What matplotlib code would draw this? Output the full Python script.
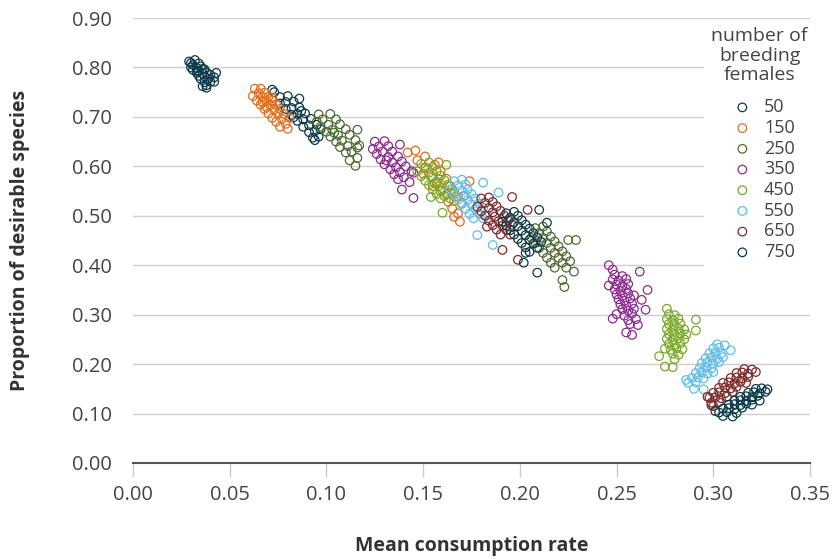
import matplotlib
matplotlib.use("Agg")
import matplotlib.pyplot as plt

plt.rcParams["font.family"] = ["Open Sans", "DejaVu Sans"]

females = [50, 150, 250, 350, 450, 550, 650, 750]
colors = ["#0d3a48", "#e06b1b", "#4e6b35", "#8b2b8f", "#7aa82a", "#5bbfea", "#7d2b2b", "#0d3a48"]

# every group shows two clusters
x50 = [0.029, 0.031, 0.033, 0.034, 0.036, 0.037, 0.039, 0.040,
       0.032, 0.034, 0.035, 0.037, 0.038, 0.040, 0.042,
       0.030, 0.031, 0.033, 0.034, 0.035, 0.037, 0.038,
       0.043, 0.042, 0.038, 0.036, 0.030, 0.036, 0.033,
       0.073, 0.076, 0.079, 0.082, 0.085, 0.088, 0.091, 0.094, 0.096,
       0.080, 0.083, 0.086, 0.089, 0.092, 0.095, 0.097,
       0.076, 0.079, 0.082, 0.085, 0.088, 0.091, 0.093,
       0.072, 0.086, 0.094, 0.087, 0.083]
y50 = [0.812, 0.805, 0.799, 0.793, 0.788, 0.782, 0.777, 0.771,
       0.815, 0.808, 0.802, 0.796, 0.790, 0.785, 0.780,
       0.800, 0.795, 0.789, 0.783, 0.777, 0.770, 0.764,
       0.789, 0.771, 0.759, 0.762, 0.809, 0.797, 0.793,
       0.750, 0.740, 0.730, 0.718, 0.706, 0.695, 0.683, 0.671, 0.660,
       0.742, 0.731, 0.719, 0.707, 0.696, 0.684, 0.675,
       0.727, 0.716, 0.704, 0.692, 0.680, 0.669, 0.658,
       0.755, 0.737, 0.653, 0.712, 0.699]

x150 = [0.063, 0.065, 0.067, 0.069, 0.071, 0.073, 0.075, 0.077, 0.079,
        0.066, 0.068, 0.070, 0.072, 0.074, 0.076, 0.078,
        0.062, 0.064, 0.066, 0.068, 0.070, 0.072, 0.074,
        0.080, 0.076, 0.081, 0.069, 0.072, 0.067,
        0.142, 0.146, 0.147, 0.151, 0.151, 0.156, 0.154, 0.159, 0.157, 0.162, 0.159, 0.164, 0.161,
        0.166, 0.163, 0.168, 0.165, 0.170, 0.168, 0.169, 0.158, 0.174, 0.171, 0.155, 0.150, 0.166]
y150 = [0.757, 0.748, 0.740, 0.732, 0.724, 0.715, 0.706, 0.696, 0.686,
        0.757, 0.749, 0.741, 0.733, 0.725, 0.716, 0.706,
        0.742, 0.733, 0.725, 0.716, 0.707, 0.698, 0.690,
        0.676, 0.680, 0.698, 0.720, 0.739, 0.730,
        0.628, 0.632, 0.612, 0.620, 0.598, 0.603, 0.580, 0.590, 0.566, 0.575, 0.550, 0.560, 0.540,
        0.548, 0.528, 0.538, 0.515, 0.525, 0.505, 0.488, 0.608, 0.570, 0.540, 0.560, 0.585, 0.498]

x250 = [0.096, 0.098, 0.101, 0.103, 0.106, 0.108, 0.111, 0.113, 0.116,
        0.102, 0.105, 0.107, 0.110, 0.112, 0.115, 0.117,
        0.095, 0.097, 0.100, 0.102, 0.105, 0.107, 0.110,
        0.116, 0.116, 0.115, 0.112, 0.104,
        0.208, 0.210, 0.212, 0.214, 0.216, 0.218, 0.220, 0.222, 0.224,
        0.212, 0.214, 0.216, 0.218, 0.220, 0.222, 0.224, 0.226,
        0.206, 0.208, 0.210, 0.212, 0.214, 0.216, 0.218,
        0.229, 0.225, 0.223, 0.228, 0.222]
y250 = [0.705, 0.695, 0.684, 0.674, 0.663, 0.652, 0.641, 0.630, 0.617,
        0.706, 0.695, 0.685, 0.675, 0.664, 0.653, 0.642,
        0.690, 0.680, 0.670, 0.660, 0.650, 0.639, 0.628,
        0.674, 0.638, 0.601, 0.612, 0.668,
        0.475, 0.465, 0.455, 0.445, 0.435, 0.425, 0.415, 0.405, 0.395,
        0.478, 0.468, 0.458, 0.448, 0.438, 0.428, 0.418, 0.408,
        0.455, 0.445, 0.435, 0.425, 0.415, 0.405, 0.395,
        0.451, 0.451, 0.356, 0.387, 0.370]

x350 = [0.125, 0.127, 0.129, 0.132, 0.134, 0.136, 0.138, 0.140, 0.143,
        0.130, 0.132, 0.134, 0.137, 0.139, 0.141, 0.144,
        0.124, 0.126, 0.128, 0.130, 0.133, 0.135, 0.137,
        0.138, 0.145, 0.139, 0.145, 0.131,
        0.246, 0.248, 0.262, 0.249, 0.253, 0.248, 0.251, 0.255, 0.250, 0.253, 0.256, 0.246,
        0.249, 0.252, 0.255, 0.266, 0.250, 0.253, 0.256, 0.259, 0.251, 0.254, 0.257, 0.263,
        0.252, 0.255, 0.258, 0.253, 0.256, 0.259, 0.265, 0.250, 0.254, 0.258,
        0.248, 0.256, 0.260, 0.257, 0.261, 0.255, 0.258]
y350 = [0.650, 0.640, 0.630, 0.619, 0.608, 0.598, 0.588, 0.578, 0.568,
        0.651, 0.641, 0.630, 0.620, 0.610, 0.600, 0.590,
        0.635, 0.625, 0.614, 0.604, 0.594, 0.584, 0.574,
        0.644, 0.587, 0.553, 0.536, 0.612,
        0.400, 0.391, 0.387, 0.381, 0.378, 0.371, 0.369, 0.372, 0.361, 0.358, 0.362, 0.359,
        0.351, 0.348, 0.352, 0.350, 0.341, 0.338, 0.343, 0.339, 0.331, 0.328, 0.333, 0.330,
        0.321, 0.318, 0.322, 0.311, 0.308, 0.312, 0.310, 0.301, 0.298, 0.302,
        0.292, 0.289, 0.291, 0.281, 0.279, 0.264, 0.259]

x450 = [0.149, 0.151, 0.153, 0.155, 0.157, 0.158, 0.160, 0.162, 0.164,
        0.153, 0.155, 0.157, 0.159, 0.161, 0.163, 0.165,
        0.147, 0.149, 0.151, 0.153, 0.155, 0.157, 0.159,
        0.162, 0.154, 0.160, 0.166, 0.156,
        0.276, 0.277, 0.280, 0.276, 0.279, 0.282, 0.291, 0.277, 0.280, 0.283,
        0.276, 0.279, 0.282, 0.285, 0.291, 0.277, 0.280, 0.283, 0.286,
        0.276, 0.279, 0.282, 0.285, 0.277, 0.280, 0.283,
        0.275, 0.278, 0.281, 0.284, 0.279, 0.282, 0.272, 0.280, 0.275, 0.279]
y450 = [0.605, 0.596, 0.587, 0.578, 0.569, 0.560, 0.551, 0.543, 0.535,
        0.608, 0.599, 0.590, 0.581, 0.572, 0.563, 0.554,
        0.590, 0.580, 0.571, 0.562, 0.553, 0.544, 0.535,
        0.603, 0.538, 0.506, 0.530, 0.566,
        0.312, 0.301, 0.299, 0.291, 0.289, 0.292, 0.290, 0.281, 0.279, 0.282,
        0.271, 0.269, 0.272, 0.270, 0.268, 0.261, 0.259, 0.262, 0.260,
        0.251, 0.249, 0.252, 0.250, 0.241, 0.239, 0.242,
        0.231, 0.229, 0.232, 0.230, 0.221, 0.219, 0.216, 0.210, 0.195, 0.194]

x550 = [0.166, 0.168, 0.170, 0.172, 0.173, 0.175, 0.177, 0.179, 0.181,
        0.170, 0.172, 0.173, 0.175, 0.177, 0.179, 0.181,
        0.164, 0.166, 0.168, 0.170, 0.172, 0.174, 0.176,
        0.181, 0.189, 0.178, 0.186, 0.183,
        0.302, 0.306, 0.300, 0.303, 0.309, 0.298, 0.301, 0.304, 0.296, 0.299, 0.302, 0.305,
        0.294, 0.297, 0.300, 0.303, 0.293, 0.296, 0.299, 0.291, 0.294, 0.297, 0.300,
        0.289, 0.292, 0.295, 0.287, 0.291, 0.290, 0.295, 0.286]
y550 = [0.570, 0.561, 0.551, 0.542, 0.532, 0.523, 0.514, 0.504, 0.495,
        0.573, 0.563, 0.553, 0.544, 0.535, 0.525, 0.516,
        0.553, 0.543, 0.533, 0.524, 0.514, 0.504, 0.495,
        0.567, 0.547, 0.461, 0.441, 0.500,
        0.240, 0.238, 0.232, 0.233, 0.228, 0.222, 0.223, 0.221, 0.212, 0.213, 0.211, 0.214,
        0.202, 0.203, 0.201, 0.204, 0.192, 0.193, 0.191, 0.182, 0.183, 0.181, 0.184,
        0.172, 0.173, 0.171, 0.162, 0.163, 0.150, 0.149, 0.168]

x650 = [0.180, 0.182, 0.184, 0.186, 0.187, 0.189, 0.191, 0.193, 0.195,
        0.184, 0.186, 0.188, 0.190, 0.192, 0.194, 0.196,
        0.178, 0.180, 0.182, 0.184, 0.186, 0.188, 0.190,
        0.196, 0.204, 0.191, 0.199, 0.183,
        0.316, 0.320, 0.312, 0.315, 0.318, 0.322, 0.309, 0.312, 0.315, 0.318,
        0.305, 0.308, 0.311, 0.314, 0.317, 0.303, 0.306, 0.309, 0.312,
        0.300, 0.303, 0.306, 0.310, 0.298, 0.301, 0.304, 0.307,
        0.299, 0.303, 0.300, 0.297, 0.299]
y650 = [0.535, 0.526, 0.516, 0.507, 0.498, 0.489, 0.480, 0.471, 0.462,
        0.537, 0.528, 0.519, 0.510, 0.500, 0.491, 0.482,
        0.518, 0.509, 0.500, 0.490, 0.481, 0.472, 0.462,
        0.538, 0.512, 0.431, 0.411, 0.478,
        0.190, 0.189, 0.182, 0.183, 0.181, 0.184, 0.172, 0.173, 0.171, 0.174,
        0.162, 0.163, 0.161, 0.164, 0.162, 0.152, 0.153, 0.151, 0.154,
        0.142, 0.143, 0.141, 0.144, 0.132, 0.133, 0.131, 0.134,
        0.122, 0.123, 0.115, 0.134, 0.117]

x750 = [0.193, 0.195, 0.197, 0.199, 0.201, 0.203, 0.205, 0.207, 0.209,
        0.197, 0.199, 0.201, 0.203, 0.205, 0.207, 0.209, 0.211,
        0.191, 0.193, 0.195, 0.197, 0.199, 0.201, 0.203, 0.205,
        0.210, 0.203, 0.202, 0.209, 0.214,
        0.322, 0.325, 0.328, 0.318, 0.321, 0.324, 0.327, 0.314, 0.317, 0.320, 0.323,
        0.311, 0.314, 0.317, 0.320, 0.324, 0.308, 0.311, 0.314, 0.317, 0.320,
        0.305, 0.308, 0.311, 0.315, 0.303, 0.307, 0.312, 0.305, 0.310, 0.301]
y750 = [0.505, 0.496, 0.487, 0.479, 0.470, 0.461, 0.452, 0.444, 0.435,
        0.508, 0.500, 0.491, 0.482, 0.474, 0.465, 0.456, 0.447,
        0.488, 0.480, 0.471, 0.462, 0.453, 0.445, 0.436, 0.427,
        0.512, 0.425, 0.405, 0.385, 0.486,
        0.150, 0.151, 0.149, 0.142, 0.143, 0.141, 0.144, 0.134, 0.135, 0.133, 0.136,
        0.126, 0.127, 0.125, 0.128, 0.126, 0.118, 0.119, 0.117, 0.120, 0.118,
        0.110, 0.111, 0.109, 0.112, 0.102, 0.103, 0.101, 0.095, 0.094, 0.105]

xs = [x50, x150, x250, x350, x450, x550, x650, x750]
ys = [y50, y150, y250, y350, y450, y550, y650, y750]

x_ticks = [0.00, 0.05, 0.10, 0.15, 0.20, 0.25, 0.30, 0.35]
y_ticks = [0.00, 0.10, 0.20, 0.30, 0.40, 0.50, 0.60, 0.70, 0.80, 0.90]

fig = plt.figure(figsize=(8.37, 5.59), dpi=100, facecolor="white")
ax = fig.add_axes([133 / 837, 96 / 559, 677 / 837, 445 / 559])

for n, c, x, y in zip(females, colors, xs, ys):
    ax.scatter(x, y, s=38, facecolors="none", edgecolors=c, linewidths=0.9, label=str(n), zorder=3)

ax.set_xlim(0, 0.35)
ax.set_ylim(0, 0.90)
ax.set_xticks(x_ticks)
ax.set_yticks(y_ticks)
ax.set_xticklabels([f"{v:.2f}" for v in x_ticks])
ax.set_yticklabels([f"{v:.2f}" for v in y_ticks])
ax.grid(axis="y", color="#d0d0d0", linewidth=1.0, zorder=0)
ax.set_axisbelow(True)

for side in ["top", "right", "left"]:
    ax.spines[side].set_visible(False)
ax.spines["bottom"].set_color("#555555")
ax.spines["bottom"].set_linewidth(1.5)
ax.spines["bottom"].set_zorder(4)

ax.tick_params(axis="x", length=10, width=1, color="#cccccc", labelsize=14.5, labelcolor="#444444", pad=6)
ax.tick_params(axis="y", length=0, labelsize=14.5, labelcolor="#444444", pad=15)

ax.set_xlabel("Mean consumption rate", fontsize=14, fontweight="bold", color="#333333")
ax.set_ylabel("Proportion of desirable species", fontsize=14, fontweight="bold", color="#333333")
ax.xaxis.set_label_coords(0.5, -0.165)
ax.yaxis.set_label_coords(-0.152, 0.5)

leg = ax.legend(
    title="number of\nbreeding\nfemales",
    loc="upper right",
    bbox_to_anchor=(1.0074, 0.995),
    borderaxespad=0,
    borderpad=0.4,
    frameon=True,
    fontsize=13,
    title_fontsize=14,
    labelspacing=0.15,
    handletextpad=0.2,
    alignment="center",
)
leg._legend_box.sep = 10  # a bit more room between title and entries
leg.get_frame().set_facecolor("white")
leg.get_frame().set_edgecolor("none")
leg.get_frame().set_alpha(1)
leg.get_title().set_color("#444444")
leg.get_title().set_linespacing(1.1)
leg.get_title().set_multialignment("center")
for t in leg.get_texts():
    t.set_color("#444444")

fig.savefig("out.png", dpi=100)
